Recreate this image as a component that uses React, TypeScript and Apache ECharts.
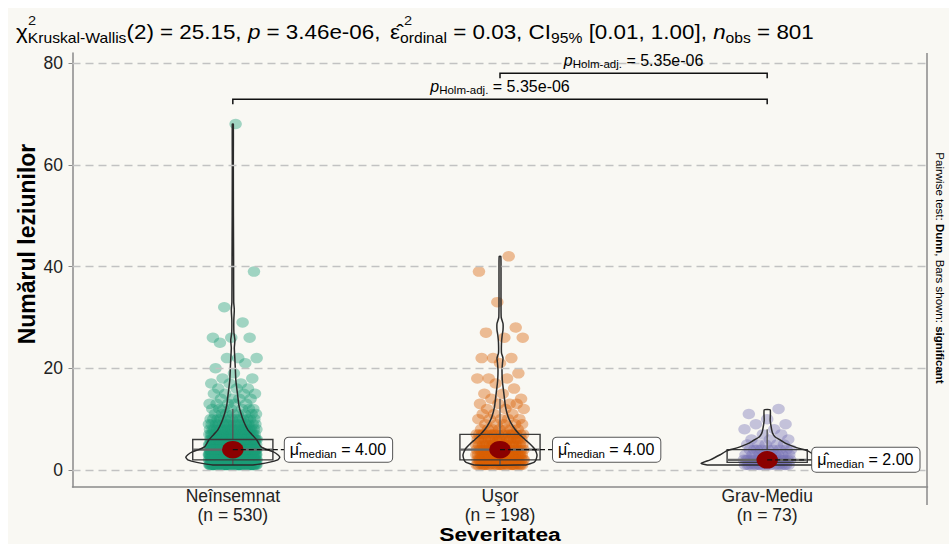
import React, { useEffect, useRef } from 'react';
import * as echarts from 'echarts';

// ---------------- data ----------------
const categories = ['Neînsemnat', 'Uşor', 'Grav-Mediu'];
const groupSizes = [530, 198, 73];
const yTicks = [0, 20, 40, 60, 80];
const medians = [4, 4, 2];
const medianText = ['4.00', '4.00', '2.00'];
// [lower whisker, Q1, median, Q3, upper whisker]
const boxStats = [
  [1, 2, 4, 6, 12],
  [1, 2, 4, 7, 14],
  [1, 1.5, 2, 4, 8],
];
// [value, count]
const counts1: [number, number][] = [
  [1, 70], [2, 85], [3, 85], [4, 70], [5, 50], [6, 40], [7, 29], [8, 22], [9, 16], [10, 13],
  [11, 8], [12, 7], [13, 5], [14, 4], [15, 4], [16, 3], [17, 3], [18, 2], [19, 1], [20, 1],
  [21, 1], [22, 3], [25, 1], [26, 3], [29, 1], [32, 1], [39, 1], [68, 1],
];
const counts2: [number, number][] = [
  [1, 25], [2, 30], [3, 25], [4, 20], [5, 18], [6, 15], [7, 17], [8, 7], [9, 5], [10, 5],
  [11, 3], [12, 3], [13, 4], [14, 2], [15, 2], [16, 1], [17, 1], [18, 3], [19, 1], [21, 1],
  [22, 3], [26, 2], [27, 1], [28, 1], [33, 1], [39, 1], [42, 1],
];
const counts3: [number, number][] = [
  [1, 19], [2, 19], [3, 9], [4, 9], [5, 5], [6, 3], [7, 2], [8, 2], [9, 2], [10, 1], [11, 1], [12, 1],
];
// kernel density profiles: [value, density]
const violin1: [number, number][] = [
  [1, 20], [1.5, 36], [2, 45], [2.5, 47], [3, 45], [3.6, 40], [4, 34], [4.6, 28], [5.2, 26], [5.9, 24],
  [7, 19], [7.9, 15], [9.5, 11], [11.2, 8], [12.8, 6], [14.4, 5], [16, 4], [17.7, 3], [20, 2.5],
  [22, 2], [24, 1.5], [25.5, 2.1], [27, 1.1], [29.5, 1], [31.5, 1.5], [33, 0.9], [40, 0.8], [50, 0.6],
  [60, 0.5], [68, 0.5],
];
const violin2: [number, number][] = [
  [1, 26], [1.5, 34], [2, 36], [3, 37], [4, 35], [4.5, 33], [5.3, 29], [6, 25], [6.9, 20], [8, 15],
  [9.2, 11], [10.5, 8], [12.4, 5.5], [14, 4.5], [16.4, 3], [17.7, 2.3], [19.7, 2], [21, 2.5], [22, 3],
  [23, 1.5], [25, 1.5], [26.5, 2.2], [27.5, 3], [28.8, 3], [30, 1.2], [33, 1], [36, 1], [40, 1], [42, 0.8],
];
const violin3: [number, number][] = [
  [1, 60], [1.3, 66], [2, 57], [3, 47], [3.8, 40], [4.3, 31], [4.8, 24], [5.3, 18], [6, 12], [6.5, 8],
  [7.2, 5.5], [7.9, 4.5], [9, 3.5], [9.8, 3], [11.8, 3],
];
const violins = [violin1, violin2, violin3];
const comparisons = [
  { from: 1, to: 3, p: '5.35e-06' },
  { from: 2, to: 3, p: '5.35e-06' },
];

// ---------------- layout / style ----------------
const COLORS = ['#1B9E77', '#D95F02', '#7570B3'];
const BG = '#F9F8F3';
const FONT = '"Liberation Sans", Arial, Helvetica, sans-serif';
const Y_MIN = -3.34;
const Y_MAX = 81.97;
const JITTER = 0.09;
const BOX_HALF = 0.15;
const DENS_SCALE = 1 / 267.2;
const LABEL_DX = [52, 53, 45];
const BRACKET_LEVELS = [72.9, 78.0];
const TXT = '#111';
const TITLE_STRETCH = 1.12;

function jitterPoints(counts: [number, number][], g: number) {
  const pts: number[][] = [];
  let i = 0;
  for (const [v, c] of counts) {
    for (let k = 0; k < c; k++) {
      const u = ((i + 1) * 0.6180339887 + g * 0.31) % 1;
      pts.push([g + 1 + (u - 0.5) * 2 * JITTER, v]);
      i++;
    }
  }
  return pts;
}

export default function App() {
  const ref = useRef<HTMLDivElement>(null);
  useEffect(() => {
    if (!ref.current) return;
    const chart = echarts.init(ref.current, undefined, { renderer: 'svg' });
    const allCounts = [counts1, counts2, counts3];

    const titleRich = {
      m: { fontSize: 20, lineHeight: 26, fontFamily: FONT, color: TXT },
      it: { fontSize: 20, lineHeight: 26, fontStyle: 'italic', fontFamily: FONT, color: TXT },
      s: { fontSize: 14, lineHeight: 14, verticalAlign: 'bottom', fontFamily: FONT, color: TXT },
    };
    const smallRich = {
      m: { fontSize: 16, lineHeight: 20, fontFamily: FONT, color: TXT },
      it: { fontSize: 16, lineHeight: 20, fontStyle: 'italic', fontFamily: FONT, color: TXT },
      s: { fontSize: 11.5, lineHeight: 11, verticalAlign: 'bottom', fontFamily: FONT, color: TXT },
    };

    const option: any = {
      animation: false,
      backgroundColor: BG,
      grid: { left: 64.5, right: 21.5, top: 45, bottom: 57, containLabel: false, outerBoundsMode: 'none' },
      xAxis: {
        type: 'value', min: 0.4, max: 3.6,
        axisLine: { show: true, onZero: false, lineStyle: { color: '#8a8a8a', width: 1.5 } },
        axisTick: { show: false },
        axisLabel: {
          customValues: [1, 2, 3],
          formatter: (v: number) => {
            const i = Math.round(v) - 1;
            return `${categories[i]}\n(n = ${groupSizes[i]})`;
          },
          color: '#222', fontSize: 17.5, lineHeight: 18.5, margin: 0, fontFamily: FONT,
        },
        splitLine: { show: false },
      },
      yAxis: {
        type: 'value', min: Y_MIN, max: Y_MAX,
        axisLine: { show: true, onZero: false, lineStyle: { color: '#8a8a8a', width: 1.5 } },
        axisTick: { show: true, customValues: yTicks, length: 4, lineStyle: { color: '#8a8a8a' } },
        axisLabel: { customValues: yTicks, color: '#222', fontSize: 17.5, margin: 9.5, fontFamily: FONT },
        splitLine: { show: false },
      },
      series: [
        {
          type: 'line', data: [], z: 1, silent: true,
          markLine: {
            silent: true, symbol: 'none', label: { show: false },
            lineStyle: { type: [8, 5], color: '#c2c2c2', width: 1.3 },
            data: yTicks.map((v) => ({ yAxis: v })),
          },
        },
        ...allCounts.map((c, g) => ({
          type: 'scatter', z: 2, silent: true,
          data: jitterPoints(c, g),
          symbol: 'circle', symbolSize: [12.5, 10.5],
          itemStyle: { color: COLORS[g], opacity: 0.4 },
        })),
        {
          type: 'custom', z: 3, silent: true, clip: false,
          data: boxStats.map((b, i) => [i + 1, b[2]]),
          renderItem: (params: any, api: any) => {
            const i = params.dataIndex;
            const [mn, q1, md, q3, mx] = boxStats[i];
            const c = i + 1;
            const tl = api.coord([c - BOX_HALF, q3]);
            const br = api.coord([c + BOX_HALF, q1]);
            const top = api.coord([c, mx]);
            const bot = api.coord([c, mn]);
            const ml = api.coord([c - BOX_HALF, md]);
            const mr = api.coord([c + BOX_HALF, md]);
            const ln = { stroke: '#555', lineWidth: 1.4 };
            return {
              type: 'group',
              children: [
                { type: 'line', shape: { x1: top[0], y1: top[1], x2: top[0], y2: tl[1] }, style: ln },
                { type: 'line', shape: { x1: bot[0], y1: bot[1], x2: bot[0], y2: br[1] }, style: ln },
                { type: 'rect', shape: { x: tl[0], y: tl[1], width: br[0] - tl[0], height: br[1] - tl[1] }, style: { fill: 'none', stroke: '#3a3a3a', lineWidth: 1.4 } },
                { type: 'line', shape: { x1: ml[0], y1: ml[1], x2: mr[0], y2: mr[1] }, style: { stroke: '#666', lineWidth: 2.4 } },
              ],
            };
          },
        },
        {
          type: 'custom', z: 4, silent: true, clip: false,
          data: violins.map((_, i) => [i + 1, 0]),
          renderItem: (params: any, api: any) => {
            const i = params.dataIndex;
            const c = i + 1;
            const prof = violins[i];
            const left = prof.map(([v, d]) => api.coord([c - d * DENS_SCALE, v]));
            const right = prof.slice().reverse().map(([v, d]) => api.coord([c + d * DENS_SCALE, v]));
            return {
              type: 'polygon',
              shape: { points: [...left, ...right], smooth: 0.15 },
              style: { fill: 'none', stroke: '#2b2b2b', lineWidth: 1.5 },
            };
          },
        },
        {
          type: 'scatter', z: 5, silent: true,
          data: medians.map((m, i) => [i + 1, m]),
          symbol: 'circle', symbolSize: [21.5, 17.5],
          itemStyle: { color: '#8B0000', opacity: 1 },
        },
        {
          type: 'custom', z: 6, silent: true, clip: false,
          data: medians.map((m, i) => [i + 1, m]),
          renderItem: (params: any, api: any) => {
            const i = params.dataIndex;
            const p = api.coord([i + 1, medians[i]]);
            const x0 = p[0] + LABEL_DX[i];
            return {
              type: 'group',
              children: [
                { type: 'line', shape: { x1: p[0], y1: p[1], x2: x0, y2: p[1] }, style: { stroke: '#111', lineWidth: 1.3, lineDash: [5, 3] } },
                {
                  type: 'text', x: x0, y: p[1],
                  style: {
                    text: `{m|μ̂}{s|median}{m| = ${medianText[i]}}`,
                    rich: smallRich,
                    align: 'left', verticalAlign: 'middle',
                    backgroundColor: '#ffffff', borderColor: '#555', borderWidth: 1, borderRadius: 4,
                    padding: [2, 6, 2, 5],
                  },
                },
              ],
            };
          },
        },
        {
          type: 'custom', z: 6, silent: true, clip: false,
          data: comparisons.map((c) => [c.from, c.to]),
          renderItem: (params: any, api: any) => {
            const i = params.dataIndex;
            const cmp = comparisons[i];
            const yv = BRACKET_LEVELS[i];
            const a = api.coord([cmp.from, yv]);
            const b = api.coord([cmp.to, yv]);
            const tick = api.coord([cmp.from, yv - 1])[1] - a[1];
            return {
              type: 'group',
              children: [
                { type: 'polyline', shape: { points: [[a[0], a[1] + tick], [a[0], a[1]], [b[0], b[1]], [b[0], b[1] + tick]] }, style: { stroke: '#111', lineWidth: 1.5, fill: 'none' } },
                {
                  type: 'text', x: (a[0] + b[0]) / 2, y: a[1] - 13,
                  style: { text: `{it|p}{s|Holm-adj.}{m| = ${cmp.p}}`, rich: smallRich, align: 'center', verticalAlign: 'middle' },
                },
              ],
            };
          },
        },
      ],
      graphic: [
        {
          type: 'text', x: 8, y: 24, scaleX: TITLE_STRETCH, silent: true,
          style: { text: '{m|χ}{s|Kruskal-Wallis}{m|(2) = 25.15, }{it|p}{m| = 3.46e-06, }', rich: titleRich, verticalAlign: 'middle', align: 'left' },
        },
        { type: 'text', x: 20, y: 13, scaleX: TITLE_STRETCH, silent: true, style: { text: '2', fontSize: 13, fontFamily: FONT, fill: TXT, verticalAlign: 'middle' } },
        {
          type: 'text', x: 382, y: 24, scaleX: TITLE_STRETCH, silent: true,
          style: { text: '{m|ε̂}{s|ordinal}{m| = 0.03, CI}{s|95%}{m| [0.01, 1.00], }{it|n}{s|obs}{m| = 801}', rich: titleRich, verticalAlign: 'middle', align: 'left' },
        },
        { type: 'text', x: 396, y: 13, scaleX: TITLE_STRETCH, silent: true, style: { text: '2', fontSize: 13, fontFamily: FONT, fill: TXT, verticalAlign: 'middle' } },
        {
          type: 'text', x: 19, y: 236, rotation: Math.PI / 2, silent: true,
          style: { text: 'Numărul leziunilor', fontSize: 23, fontWeight: 'bold', fontFamily: FONT, fill: '#000', align: 'center', verticalAlign: 'middle' },
        },
        {
          type: 'text', x: 492, y: 526, scaleX: 1.2, silent: true,
          style: { text: 'Severitatea', fontSize: 19, lineHeight: 19, fontWeight: 'bold', fontFamily: FONT, fill: '#000', align: 'center', verticalAlign: 'middle' },
        },
        {
          type: 'text', x: 932, y: 260, rotation: -Math.PI / 2, silent: true,
          style: {
            text: '{n|Pairwise test: }{b|Dunn}{n|, Bars shown: }{b|significant}',
            rich: {
              n: { fontSize: 11.5, fontFamily: FONT, color: '#000' },
              b: { fontSize: 11.5, fontFamily: FONT, fontWeight: 'bold', color: '#000' },
            },
            align: 'center', verticalAlign: 'middle',
          },
        },
        { type: 'line', silent: true, shape: { x1: 919, y1: 45, x2: 919, y2: 497 }, style: { stroke: '#8a8a8a', lineWidth: 1.5 } },
      ],
    };
    chart.setOption(option);
    return () => chart.dispose();
  }, []);

  return (
    <div
      ref={ref}
      style={{ position: 'fixed', left: 8, top: 8, width: 941, height: 536, background: BG }}
    />
  );
}
